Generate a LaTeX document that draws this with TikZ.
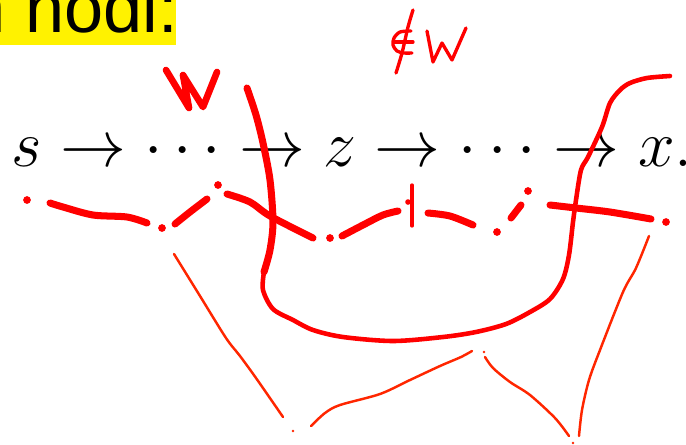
\documentclass[tikz,border=0pt]{standalone}
\usepackage{fix-cm}
\usepackage{fontspec}
\newfontfamily\slidefont{Liberation Sans}
\definecolor{thinred}{RGB}{255,38,0}

\begin{document}
\begin{tikzpicture}[x=0.02cm,y=-0.02cm,line cap=round,line join=round,
    bold stroke/.style={draw=red,line width=4pt},
    loop stroke/.style={draw=red,line width=2.6pt},
    pen stroke/.style={draw=red,line width=1.9pt},
    fine stroke/.style={draw=thinred,line width=1.4pt},
    ink dot/.style={fill=red},
    fine dot/.style={fill=thinred}]
    \useasboundingbox (0,0) rectangle (686,444);
    \fill[yellow] (-10,-10) rectangle (176,45);
    \node[anchor=base east,inner sep=0pt,font=\slidefont\fontsize{40}{48}\selectfont] (title) at (178,32) {n nodi:};
    \node[anchor=base west,inner sep=0pt,font=\fontsize{37.5}{45}\selectfont] (chain) at (11,166)
    {$s \to {\cdot}\,{\cdot}\,{\cdot} \to z \to {\cdot}\,{\cdot}\,{\cdot} \to x.$};
    % dashed red path under the chain
    \draw[bold stroke] plot[smooth] coordinates {(50,203) (63,207) (93,215) (127,217) (147,223)};
    \draw[bold stroke] plot[smooth] coordinates {(175,224) (190,212) (207,199)};
    \draw[bold stroke] plot[smooth] coordinates {(227,194) (250,202) (270,216) (313,238)};
    \draw[bold stroke] plot[smooth] coordinates {(342,236) (363,225) (383,215) (398,211)};
    \draw[pen stroke] (412,185) -- (412,226);
    \draw[bold stroke] plot[smooth] coordinates {(428,213) (450,216) (473,225)};
    \draw[bold stroke] (511,218) -- (521,205);
    \draw[bold stroke] plot[smooth] coordinates {(550,205) (576,208) (610,212) (651,219)};
    \foreach \p in {(27,200),(162,228),(218,185),(330,238),(497,232),(528,191),(666,222)}
        \fill[ink dot] \p circle (2.2pt);
    \fill[ink dot] (408,202) circle (1.6pt);
    % W and the loop around it
    \draw[red,line width=3.8pt] (166,70) -- (189,108) -- (183,75) -- (203,107) -- (217,72);
    \draw[bold stroke] plot[smooth] coordinates {(247,88) (256,115) (263,143) (270,180) (273,222) (270,250) (264,272)};
    \draw[loop stroke] plot[smooth] coordinates {(264,272) (263,290) (273,309) (293,320) (313,330) (343,337)
        (393,341) (443,337) (476,332) (506,324) (530,312) (550,299) (563,279) (569,255) (573,222)
        (576,200) (581,170) (588,157) (602,127) (610,103) (620,90) (630,83) (647,78) (670,76)};
    % not in W
    \draw[pen stroke] plot[smooth] coordinates {(413,10) (408,27) (402,53) (396,73)};
    \draw[pen stroke] plot[smooth] coordinates {(411,31) (400,32) (394,38) (393,45) (397,51) (404,53) (412,53)};
    \draw[pen stroke] (394,42) -- (413,42);
    \draw[pen stroke] (427,31) -- (433,62) -- (442,43) -- (452,60) -- (466,28);
    % braces below
    \draw[fine stroke] plot[smooth] coordinates {(174,254) (200,296) (226,338) (240,356) (256,378) (283,417)};
    \draw[fine stroke] plot[smooth] coordinates {(311,426) (325,413) (340,405) (380,394) (410,380) (440,366) (461,357) (472,351)};
    \draw[fine stroke] plot[smooth] coordinates {(485,357) (493,368) (510,382) (530,395) (555,418) (569,436)};
    \draw[fine stroke] plot[smooth] coordinates {(649,236) (636,268) (623,292) (600,350) (589,380) (582,410) (579,436)};
    \foreach \p in {(293,431),(484,352),(573,443)}
        \fill[fine dot] \p circle (0.8pt);
\end{tikzpicture}
\end{document}
